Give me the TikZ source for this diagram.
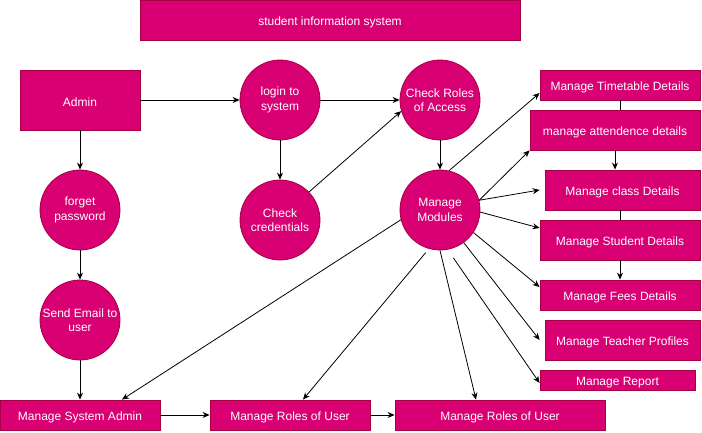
\documentclass[tikz,border=0pt]{standalone}
\usepackage{fontspec}
\setmainfont{Liberation Sans}
\usetikzlibrary{
    arrows.meta, % for the arrow tips
    positioning % for placing nodes relative to other nodes
}
\definecolor{sispink}{HTML}{D80073}
\definecolor{sisline}{HTML}{A50040}

\begin{document}
\begin{tikzpicture}[
        x=1pt,y=-1pt,on grid,>={Stealth[length=7pt,width=6pt]},
        every node/.style = {font=\fontsize{12}{14.5}\selectfont,text=white,
                             execute at begin node={\rule{0pt}{13.5pt}}},
        box/.style        = {rectangle,draw=sisline,fill=sispink,line width=0.8pt,inner sep=0pt},
        process/.style    = {circle,draw=sisline,fill=sispink,line width=0.8pt,minimum size=80pt,inner sep=0pt,align=center,
                             execute at begin node={\rule{0pt}{17.5pt}}},
        flow/.style       = {->,line width=0.8pt}
    ]
    \useasboundingbox (0,0) rectangle (702,432);

    % left side: login chain
        \node [box,minimum width=380pt,minimum height=40pt] (title) at (330,20) {student information system};
        \node [box,minimum width=120pt,minimum height=60pt] (admin) at (80,100) {Admin};
        \node [process] (login)   at (280,100)               {login to\\system};
        \node [process] (roles)   [right=160pt of login]     {Check Roles\\of Access};
        \node [process] (forget)  [below=110pt of admin]     {forget\\password};
        \node [process] (email)   [below=110pt of forget]    {Send Email to\\user};
        \node [process] (cred)    [below=120pt of login]     {Check\\credentials};
        \node [process] (modules) [below=110pt of roles]     {Manage\\Modules};

    % bottom row
        \node [box,minimum width=160pt,minimum height=30pt] (sysadmin)   at (80,415)  {Manage System Admin};
        \node [box,minimum width=160pt,minimum height=30pt] (userroles)  at (290,415) {Manage Roles of User};
        \node [box,minimum width=210pt,minimum height=30pt] (userroles2) at (500,415) {Manage Roles of User};

    % right column of modules
        \node [box,minimum width=160pt,minimum height=30pt] (timetable) at (620,85)    {Manage Timetable Details};
        \node [box,minimum width=170pt,minimum height=40pt] (attend)    at (615,130)   {manage attendence details};
        \node [box,minimum width=155pt,minimum height=40pt] (class)     at (622.5,190) {Manage class Details};
        \node [box,minimum width=160pt,minimum height=40pt] (student)   at (620,240)   {Manage Student Details};
        \node [box,minimum width=160pt,minimum height=30pt] (fees)      at (620,295)   {Manage Fees Details};
        \node [box,minimum width=155pt,minimum height=40pt] (teacher)   at (622.5,340) {Manage Teacher Profiles};
        \node [box,minimum width=155pt,minimum height=20pt] (report)    at (617.5,380) {Manage Report};

        \draw [flow] (admin)    -- (login);
        \draw [flow] (admin)    -- (forget);
        \draw [flow] (forget)   -- (email);
        \draw [flow] (email)    -- (sysadmin);
        \draw [flow] (sysadmin) -- (userroles);
        \draw [flow] (userroles) -- (userroles2);
        \draw [flow] (login)    -- (cred);
        \draw [flow] (login)    -- (roles);
        \draw [flow] (cred.44)  -- (roles.196);
        \draw [flow] (roles)    -- (modules);

        \draw [flow] (modules.77)  -- ([yshift=-8pt]timetable.west);
        \draw [flow] (modules.14)  -- (attend.south west);
        \draw [flow] (modules.14)  -- ([xshift=-5pt]class.west);
        \draw [flow] (modules.-3)  -- ([yshift=12pt]student.west);
        \draw [flow] (modules.-34) -- ([yshift=8pt]fees.west);
        \draw [flow] (modules.-54) -- ([xshift=-5pt]teacher.west);
        \draw [flow,shorten <=10pt] (modules.-79) -- ([yshift=-3pt]report.west);
        \draw [flow] (modules.south) -- ([xshift=-24pt]userroles2.north);
        \draw [flow,shorten <=5pt] (modules.-106) -- ([xshift=13pt]userroles.north);
        \draw [flow] (modules.194) -- ([xshift=42pt]sysadmin.north);

        \draw [line width=0.8pt] (timetable.south) -- (timetable.south |- attend.north);
        \draw [flow] (attend.south) -- (attend.south |- class.north);
        \draw [line width=0.8pt] (student.north |- class.south) -- (student.north);
        \draw [flow] (student) -- (fees);

\end{tikzpicture}
\end{document}
